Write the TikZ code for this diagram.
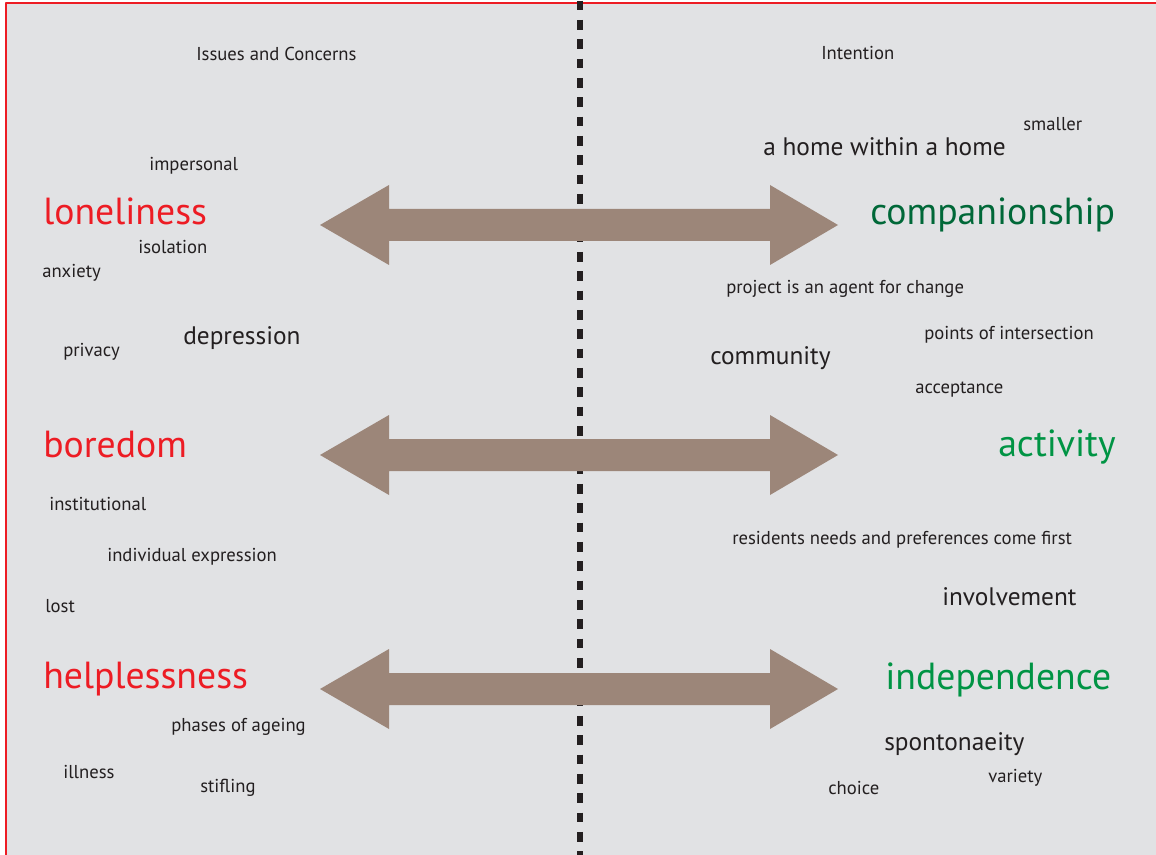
\documentclass[tikz,border=0pt]{standalone}
\usepackage{fontspec}
\setmainfont{PT Sans}
\definecolor{panel}{RGB}{225,226,228}
\definecolor{ink}{RGB}{35,31,32}
\definecolor{alarm}{RGB}{237,28,36}
\definecolor{calm}{RGB}{0,104,56}
\definecolor{lively}{RGB}{0,148,68}
\definecolor{arrowfill}{RGB}{156,134,121}
\tikzset{
  small/.style={anchor=base west, inner sep=0pt, text=ink, font=\fontsize{14}{16}\selectfont},
  medium/.style={small, font=\fontsize{19}{21}\selectfont},
  big/.style={anchor=base west, inner sep=0pt, font=\fontsize{28.3}{31}\selectfont},
  issue/.style={big, text=alarm},
  aim/.style={big, text=lively}
}
\begin{document}
\begin{tikzpicture}[x=0.75pt, y=-0.75pt, line join=round]
	\useasboundingbox (0,0) rectangle (1156,855);
	\fill[white] (0,0) rectangle (1156,855);
	\fill[panel] (6,3) rectangle (1156,855);
	\draw[alarm, line width=1.5pt] (6,855) -- (6,3) -- (1156,3);
	% dividing line
	\path
	(580,0.6) coordinate (top)
	(580,855) coordinate (bottom);
	\draw[ink, line width=4pt, dash pattern=on 7.3pt off 7.2pt] (top) -- (bottom);
	% double arrows
	\foreach \y in {225,455,689}
	\fill[arrowfill] (320,\y) -- (389,\y-40) -- (389,\y-16) -- (770,\y-16)
	-- (770,\y-40) -- (838,\y) -- (770,\y+40) -- (770,\y+16)
	-- (389,\y+16) -- (389,\y+40) -- cycle;
	% issues and concerns
	\node[small] (issues) at (196,60.7) {Issues and Concerns};
	\node[small] (impersonal) at (149,170.7) {impersonal};
	\node[issue] (loneliness) at (43,225) {loneliness};
	\node[small] (isolation) at (138,254) {isolation};
	\node[small] (anxiety) at (42,278) {anxiety};
	\node[small] (privacy) at (63,356.7) {privacy};
	\node[medium] (depression) at (183,345) {depression};
	\node[issue] (boredom) at (43,457) {boredom};
	\node[small] (institutional) at (49,510) {institutional};
	\node[small] (expression) at (107,561.7) {individual expression};
	\node[small] (lost) at (45,612.7) {lost};
	\node[issue] (helplessness) at (43,688) {helplessness};
	\node[small] (ageing) at (171,731.7) {phases of ageing};
	\node[small] (illness) at (63,778) {illness};
	\node[small] (stifling) at (200,792) {stifling};
	% intention
	\node[small] (intention) at (821,59.3) {Intention};
	\node[small] (smaller) at (1023,131) {smaller};
	\node[medium] (homewithin) at (763,156) {a home within a home};
	\node[big, text=calm] (companionship) at (870,225) {companionship};
	\node[small] (agent) at (726,294) {project is an agent for change};
	\node[small] (intersection) at (924,340) {points of intersection};
	\node[medium] (community) at (710,364.3) {community};
	\node[small] (acceptance) at (915,393.3) {acceptance};
	\node[aim] (activity) at (998,456) {activity};
	\node[small] (residents) at (732,544) {residents needs and preferences come first};
	\node[medium] (involvement) at (942,605) {involvement};
	\node[aim] (independence) at (885,689.3) {independence};
	\node[medium] (spontonaeity) at (884,750) {spontonaeity};
	\node[small] (choice) at (828,794) {choice};
	\node[small] (variety) at (988,782.7) {variety};
\end{tikzpicture}
\end{document}
